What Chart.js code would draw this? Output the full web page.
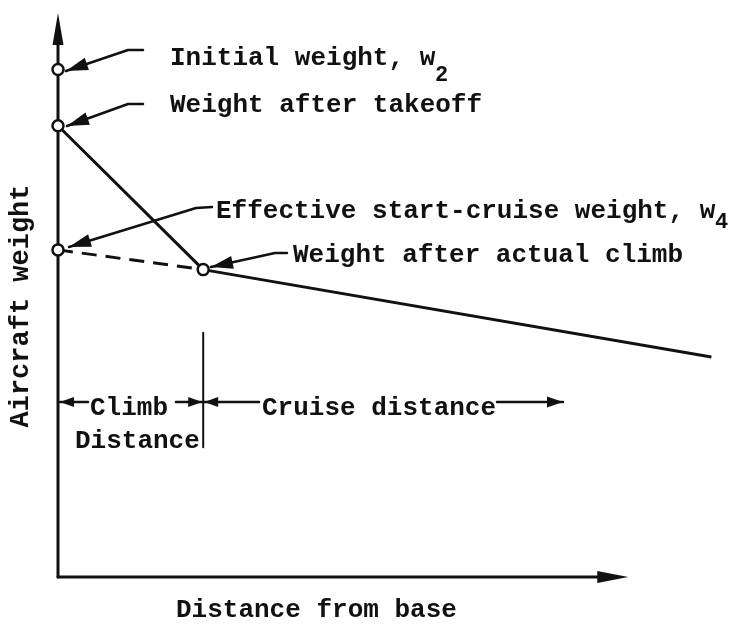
<!DOCTYPE html>
<html>
<head>
<meta charset="utf-8">
<script src="https://cdn.jsdelivr.net/npm/chart.js@4"></script>
<style>
  body { margin: 0; background: #fff; }
</style>
</head>
<body>
<canvas id="weightChart" width="732" height="630"></canvas>
<script>
// data (arbitrary units, axes go 0..100)
const stations = ['Initial weight', 'Weight after takeoff', 'Effective start-cruise weight', 'Weight after actual climb', 'End of cruise'];
const distance = [0, 0, 0, 22, 99];
const weight = [90, 80, 58, 54.5, 39];
const climbDistance = 22;
const dividerSpan = [23, 43.3];   // weight range of the climb/cruise divider
const xAxisEnd = 86.4;
const yAxisEnd = 100;

const INK = '#111';
const FONT = '"Liberation Mono", "DejaVu Sans Mono", monospace';

function pt(i) {
  return { x: distance[i], y: weight[i] };
}

function arrowHead(ctx, x1, y1, x2, y2, len, half) {
  // filled triangle pointing at (x2, y2) coming from (x1, y1)
  const a = Math.atan2(y2 - y1, x2 - x1);
  ctx.beginPath();
  ctx.moveTo(x2, y2);
  ctx.lineTo(x2 - len * Math.cos(a) + half * Math.sin(a), y2 - len * Math.sin(a) - half * Math.cos(a));
  ctx.lineTo(x2 - len * Math.cos(a) - half * Math.sin(a), y2 - len * Math.sin(a) + half * Math.cos(a));
  ctx.closePath();
  ctx.fill();
}

function polyArrow(ctx, pts, len, half) {
  ctx.beginPath();
  ctx.moveTo(pts[0][0], pts[0][1]);
  for (let i = 1; i < pts.length; i++) ctx.lineTo(pts[i][0], pts[i][1]);
  ctx.stroke();
  const n = pts.length;
  arrowHead(ctx, pts[n - 2][0], pts[n - 2][1], pts[n - 1][0], pts[n - 1][1], len, half);
}

// axes, arrows and all the text of the sketch
const sketchPlugin = {
  id: 'sketch',
  beforeDatasetsDraw(chart) {
    const ctx = chart.ctx;
    const xs = chart.scales.x, ys = chart.scales.y;
    const x0 = xs.getPixelForValue(0), y0 = ys.getPixelForValue(0);
    ctx.save();
    ctx.strokeStyle = INK;
    ctx.fillStyle = INK;
    ctx.lineCap = 'round';

    // y axis with arrow
    const yTop = ys.getPixelForValue(yAxisEnd);
    ctx.lineWidth = 3;
    ctx.beginPath();
    ctx.moveTo(x0, y0);
    ctx.lineTo(x0, yTop + 20);
    ctx.stroke();
    arrowHead(ctx, x0, y0, x0, yTop, 32, 5.5);

    // x axis with arrow
    const xEnd = xs.getPixelForValue(xAxisEnd);
    ctx.beginPath();
    ctx.moveTo(x0, y0);
    ctx.lineTo(xEnd - 20, y0);
    ctx.stroke();
    arrowHead(ctx, x0, y0, xEnd, y0, 31, 6);

    // climb / cruise divider
    const xd = xs.getPixelForValue(climbDistance);
    ctx.lineWidth = 2;
    ctx.beginPath();
    ctx.moveTo(xd, ys.getPixelForValue(dividerSpan[1]));
    ctx.lineTo(xd, ys.getPixelForValue(dividerSpan[0]));
    ctx.stroke();

    // dimension arrows
    const yDim = 402;
    ctx.lineWidth = 2.5;
    polyArrow(ctx, [[88, yDim], [x0 + 2, yDim]], 14, 5);
    polyArrow(ctx, [[176, yDim], [xd - 1, yDim]], 14, 5);
    polyArrow(ctx, [[259, yDim], [xd + 1, yDim]], 14, 5);
    polyArrow(ctx, [[497, yDim], [563, yDim]], 16, 5.5);

    // leader arrows to the marked points
    ctx.lineWidth = 2.5;
    ctx.lineJoin = 'round';
    polyArrow(ctx, [[143, 50], [128, 50], [66, 71]], 22, 6.5);
    polyArrow(ctx, [[143, 104], [128, 104], [67, 126]], 22, 6.5);
    polyArrow(ctx, [[212, 207], [196, 208], [69, 247]], 22, 6.5);
    polyArrow(ctx, [[287, 253], [275, 253], [211, 267]], 22, 6.5);

    // labels
    ctx.textBaseline = 'alphabetic';
    ctx.textAlign = 'left';
    ctx.font = 'bold 26px ' + FONT;
    ctx.fillText('Initial weight, w', 170, 65);
    ctx.fillText('Weight after takeoff', 170, 112);
    ctx.fillText('Effective start-cruise weight, w', 216, 218);
    ctx.fillText('Weight after actual climb', 293, 262);
    ctx.fillText('Climb', 90, 415);
    ctx.fillText('Distance', 75, 448);
    ctx.fillText('Cruise distance', 262, 415);
    ctx.font = 'bold 22px ' + FONT;
    ctx.fillText('2', 435, 81);
    ctx.fillText('4', 715, 228);

    // axis titles
    ctx.font = 'bold 26px ' + FONT;
    ctx.fillText('Distance from base', 176, 617);
    ctx.save();
    ctx.translate(28, 306);
    ctx.rotate(-Math.PI / 2);
    ctx.textAlign = 'center';
    ctx.font = 'bold 27px ' + FONT;
    ctx.fillText('Aircraft weight', 0, 0);
    ctx.restore();

    ctx.restore();
  }
};

const config = {
  type: 'scatter',
  data: {
    datasets: [
      {
        // marked weights (drawn on top)
        label: 'Marked weights',
        data: [pt(0), pt(1), pt(2), pt(3)],
        showLine: false,
        clip: false,
        pointRadius: 5.5,
        pointBorderWidth: 2.5,
        pointBackgroundColor: '#fff',
        pointBorderColor: INK
      },
      {
        label: 'Actual climb',
        data: [pt(1), pt(3)],
        showLine: true,
        clip: false,
        borderColor: INK,
        borderWidth: 3,
        pointRadius: 0
      },
      {
        label: 'Effective climb',
        data: [pt(2), pt(3)],
        showLine: true,
        clip: false,
        borderColor: INK,
        borderWidth: 3,
        borderDash: [15, 9],
        pointRadius: 0
      },
      {
        label: 'Cruise',
        data: [pt(3), pt(4)],
        showLine: true,
        borderColor: INK,
        borderWidth: 3,
        pointRadius: 0
      }
    ]
  },
  options: {
    responsive: false,
    animation: false,
    layout: { padding: { left: 58, right: 14, top: 13, bottom: 53 } },
    plugins: {
      legend: { display: false },
      tooltip: { enabled: false }
    },
    scales: {
      x: { type: 'linear', min: 0, max: 100, display: false },
      y: { type: 'linear', min: 0, max: 100, display: false }
    }
  },
  plugins: [sketchPlugin]
};

const weightChart = new Chart(document.getElementById('weightChart'), config);
</script>
</body>
</html>
